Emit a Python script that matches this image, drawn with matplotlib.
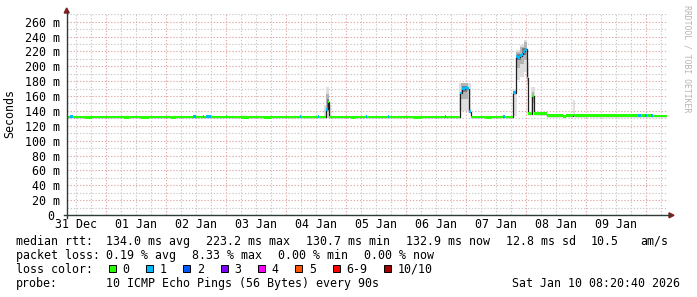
import numpy as np
import pandas as pd
import matplotlib
matplotlib.use("Agg")
import matplotlib.pyplot as plt
import matplotlib.dates as mdates
import matplotlib.transforms as mtrans
from matplotlib.lines import Line2D
from matplotlib.patches import Polygon, Rectangle
from matplotlib.ticker import MultipleLocator, FuncFormatter

# ---------------- data ----------------
t_start = "2025-12-31 08:20:40"
t_end = "2026-01-10 08:20:40"

med_time = [
    "2025-12-31 08:20", "2025-12-31 09:36", "2025-12-31 10:48", "2025-12-31 15:36",
    "2025-12-31 18:24", "2026-01-01 07:00", "2026-01-01 09:00", "2026-01-01 14:00",
    "2026-01-01 17:00", "2026-01-02 02:00", "2026-01-02 04:00", "2026-01-02 10:48",
    "2026-01-02 12:00", "2026-01-02 14:48", "2026-01-02 15:12", "2026-01-02 16:00",
    "2026-01-02 18:00", "2026-01-03 00:00", "2026-01-03 00:24", "2026-01-03 06:00",
    "2026-01-03 09:00", "2026-01-03 15:00", "2026-01-03 18:00", "2026-01-04 05:36",
    "2026-01-04 06:00", "2026-01-04 12:48", "2026-01-04 13:12", "2026-01-04 15:48",
    "2026-01-04 16:36", "2026-01-04 17:12", "2026-01-05 02:00", "2026-01-05 04:00",
    "2026-01-05 08:00", "2026-01-05 08:24", "2026-01-05 16:48", "2026-01-05 17:12",
    "2026-01-06 03:00", "2026-01-06 06:00", "2026-01-06 15:36", "2026-01-06 16:00",
    "2026-01-06 21:36", "2026-01-06 22:24", "2026-01-06 23:36", "2026-01-07 00:24",
    "2026-01-07 01:19", "2026-01-07 01:53", "2026-01-07 08:00", "2026-01-07 10:00",
    "2026-01-07 14:48", "2026-01-07 15:36", "2026-01-07 18:55", "2026-01-07 19:53",
    "2026-01-07 20:48", "2026-01-07 21:36", "2026-01-07 22:24", "2026-01-07 22:55",
    "2026-01-07 23:36", "2026-01-08 00:17", "2026-01-08 00:55", "2026-01-08 02:31",
    "2026-01-08 03:19", "2026-01-08 08:12", "2026-01-08 14:48", "2026-01-08 16:00",
    "2026-01-08 18:48", "2026-01-08 19:36", "2026-01-09 00:48", "2026-01-09 01:36",
    "2026-01-09 20:48", "2026-01-09 22:00", "2026-01-09 23:36", "2026-01-10 00:24",
    "2026-01-10 02:00", "2026-01-10 02:48",
]
med_ms = [
    131.8, 132.0, 131.8, 131.2,
    131.8, 131.3, 131.9, 131.3,
    131.9, 131.4, 131.9, 132.0,
    131.8, 132.0, 131.8, 132.0,
    131.8, 132.6, 131.8, 131.3,
    131.8, 131.4, 131.9, 132.0,
    131.8, 132.0, 131.8, 142.0,
    152.0, 131.8, 131.3, 131.8,
    132.0, 131.8, 132.0, 131.8,
    131.3, 131.8, 132.0, 131.8,
    164.0, 170.0, 171.5, 170.0,
    139.0, 131.8, 131.3, 131.8,
    132.0, 131.8, 164.5, 213.0,
    212.0, 214.0, 216.0, 220.0,
    223.0, 184.0, 136.0, 160.0,
    136.3, 133.4, 132.9, 133.4,
    134.5, 133.4, 134.2, 133.4,
    133.5, 133.4, 133.5, 133.4,
    133.5, 133.2,
]
med_loss = [
    0, 1, 0, 0,
    0, 0, 0, 0,
    0, 0, 0, 1,
    0, 1, 0, 1,
    0, 0, 0, 0,
    0, 0, 0, 1,
    0, 1, 0, 1,
    0, 0, 0, 0,
    1, 0, 1, 0,
    0, 0, 1, 0,
    1, 1, 1, 1,
    1, 0, 0, 0,
    1, 0, 1, 1,
    1, 1, 1, 1,
    1, 0, 0, 0,
    0, 0, 0, 0,
    0, 0, 0, 0,
    1, 0, 1, 0,
    1, 0,
]

smoke_start = [
    "2026-01-04 15:20", "2026-01-04 16:00", "2026-01-04 16:00", "2026-01-04 16:20",
    "2026-01-06 21:20", "2026-01-06 21:50", "2026-01-06 22:20",
    "2026-01-07 18:50", "2026-01-07 19:50", "2026-01-07 21:30", "2026-01-07 23:00",
    "2026-01-07 19:50", "2026-01-07 21:30", "2026-01-07 23:00",
    "2026-01-07 20:10", "2026-01-07 22:10",
    "2026-01-08 00:10", "2026-01-08 00:15", "2026-01-08 02:00", "2026-01-08 02:20",
    "2026-01-08 18:50",
]
smoke_end = [
    "2026-01-04 18:00", "2026-01-04 17:20", "2026-01-04 17:20", "2026-01-04 17:00",
    "2026-01-07 01:50", "2026-01-07 00:50", "2026-01-07 00:30",
    "2026-01-07 20:10", "2026-01-07 21:30", "2026-01-07 23:00", "2026-01-08 00:20",
    "2026-01-07 21:30", "2026-01-07 23:00", "2026-01-08 00:20",
    "2026-01-07 21:50", "2026-01-07 23:50",
    "2026-01-08 01:00", "2026-01-08 00:55", "2026-01-08 03:30", "2026-01-08 03:20",
    "2026-01-08 19:40",
]
smoke_low = [130, 133, 138, 141, 140, 156, 165, 133, 182, 186, 192, 198, 203, 209,
             209, 215, 175, 180, 140, 150, 132]
smoke_high = [148, 172, 163, 156, 178, 177, 174, 170, 222, 229, 236, 219, 226, 232,
              216, 224, 206, 195, 172, 166, 155]
smoke_level = [0, 0, 1, 2, 0, 1, 2, 0, 0, 0, 0, 1, 1, 1, 2, 2, 0, 1, 0, 1, 0]

day_labels = ["31 Dec", "01 Jan", "02 Jan", "03 Jan", "04 Jan",
              "05 Jan", "06 Jan", "07 Jan", "08 Jan", "09 Jan"]
day_label_time = ["2025-12-31 12:00", "2026-01-01 12:00", "2026-01-02 12:00",
                  "2026-01-03 12:00", "2026-01-04 12:00", "2026-01-05 12:00",
                  "2026-01-06 12:00", "2026-01-07 12:00", "2026-01-08 12:00",
                  "2026-01-09 12:00"]

loss_labels = ["0", "1", "2", "3", "4", "5", "6-9", "10/10"]
loss_colors = ["#26ff00", "#00b8ff", "#0059ff", "#7e00ff", "#ff00ff",
               "#ff5500", "#ff0000", "#a10000"]

rtt_stats = ["134.0 ms avg", "223.2 ms max", "130.7 ms min", "132.9 ms now", "12.8 ms sd"]
amps = ["10.5", "am/s"]
loss_stats = ["0.19 % avg", "8.33 % max", "0.00 % min", "0.00 % now"]
probe_text = "10 ICMP Echo Pings (56 Bytes) every 90s"
stamp = "Sat Jan 10 08:20:40 2026"

# ---------------- style ----------------
W, H = 697, 297
FONT = "DejaVu Sans Mono"
FS = 8.4
plt.rcParams["font.family"] = [FONT]
AXIS = "#2c3c38"
ARROW = "#7f1f1f"
GRID = "#c8c8c8"
MGRID = "#e0a8a8"
smoke_shades = ["#dedede", "#b4b4b4", "#7c7c7c"]


def fx(px):
    return px / W


def fy(py):
    return 1 - py / H


fig = plt.figure(figsize=(W / 100, H / 100), dpi=100, facecolor="white")
ax = fig.add_axes([fx(67), fy(215), 600 / W, 201 / H])
ax.set_facecolor("white")

x0 = mdates.date2num(pd.Timestamp(t_start))
x1 = mdates.date2num(pd.Timestamp(t_end))
ax.set_xlim(x0, x1)
ax.set_ylim(0, 270.3)
for s in ax.spines.values():
    s.set_visible(False)

# grid
ax.yaxis.set_major_locator(MultipleLocator(20))
ax.yaxis.set_minor_locator(MultipleLocator(10))
ax.xaxis.set_major_locator(mdates.DayLocator())
ax.xaxis.set_minor_locator(mdates.HourLocator(byhour=[6, 12, 18]))
ax.grid(which="minor", color=GRID, lw=0.8, ls=(0, (1.2, 1.6)))
ax.grid(which="major", color=MGRID, lw=0.8, ls=(0, (1.2, 1.6)))
ax.set_axisbelow(True)
ax.tick_params(axis="x", which="both", length=0, labelbottom=False)
ax.tick_params(axis="y", which="both", length=0, pad=5.0, labelsize=FS)
ax.yaxis.set_major_formatter(FuncFormatter(lambda v, p: "" if v == 0 else f"{v:.0f} m"))
# zero label drawn separately, nudged clear of the first date label
ax.text(-0.0205, 0, "0", transform=mtrans.blended_transform_factory(ax.transAxes, ax.transData),
        ha="right", va="center_baseline", fontsize=FS, color="black")

# smoke
s0 = mdates.date2num(pd.to_datetime(smoke_start))
s1 = mdates.date2num(pd.to_datetime(smoke_end))
lo = np.array(smoke_low, float)
hi = np.array(smoke_high, float)
order = np.argsort(smoke_level, kind="stable")
ax.bar(s0[order], (hi - lo)[order], bottom=lo[order], width=(s1 - s0)[order],
       align="edge", color=[smoke_shades[smoke_level[i]] for i in order],
       linewidth=0, zorder=2)

# median
mt = mdates.date2num(pd.to_datetime(med_time))
mt_end = np.append(mt[1:], x1)
mv = np.array(med_ms, float)
ax.step(np.append(mt, x1), np.append(mv, mv[-1]), where="post",
        color="#202020", lw=0.9, zorder=3)
band = 3.8
ax.bar(mt, np.full_like(mv, band), bottom=mv - band / 2, width=mt_end - mt,
       align="edge", color=[loss_colors[l] for l in med_loss], linewidth=0, zorder=4)

# x labels
trans = mtrans.blended_transform_factory(ax.transData, fig.transFigure)
for t, lab in zip(day_label_time, day_labels):
    ax.text(mdates.date2num(pd.Timestamp(t)), fy(228.0), lab, transform=trans,
            ha="center", va="baseline", fontsize=FS, color="black")

# axes lines and arrows
fig.add_artist(Line2D([fx(66.7), fx(66.7)], [fy(218), fy(12)], color=AXIS, lw=1.0))
fig.add_artist(Line2D([fx(64), fx(670)], [fy(215.3), fy(215.3)], color=AXIS, lw=1.0))
fig.add_artist(Polygon([[fx(64.2), fy(13)], [fx(69.2), fy(13)], [fx(66.7), fy(8)]],
                       closed=True, color=ARROW, transform=fig.transFigure))
fig.add_artist(Polygon([[fx(669), fy(212.8)], [fx(669), fy(217.8)], [fx(674), fy(215.3)]],
                       closed=True, color=ARROW, transform=fig.transFigure))

# y label, watermark
fig.text(fx(10), fy(113.5), "Seconds", rotation=90, ha="center", va="center",
         fontsize=FS, color="black")
fig.text(fx(687), fy(5), "RRDTOOL / TOBI OETIKER", rotation=270, ha="center",
         va="top", fontsize=5.9, color="#b4b4b4")

# legend text
def txt(px, py, s, ha="left"):
    fig.text(fx(px), fy(py), s, ha=ha, va="baseline", fontsize=FS, color="black")

b1, b2, b3, b4 = 244.8, 259.3, 272.6, 287.4
txt(15.5, b1, "median rtt:")
for s, px in zip(rtt_stats, [106.2, 206.2, 305.6, 406.2, 506.2]):
    txt(px, b1, s)
txt(590.6, b1, amps[0])
txt(640.0, b1, amps[1])

txt(15.5, b2, "packet loss:")
for s, px in zip(loss_stats, [106.2, 192.2, 278.2, 364.0]):
    txt(px, b2, s)

txt(15.5, b3, "loss color:")
cw = 7.02
bx = 108.6
for lab, col in zip(loss_labels, loss_colors):
    fig.add_artist(Rectangle((fx(bx), fy(271.8)), 7 / W, 7 / H, facecolor=col,
                             edgecolor="black", lw=0.7, transform=fig.transFigure))
    txt(bx + 14.0, b3, lab)
    bx += 7 + 7 + len(lab) * cw + 16.3

txt(15.5, b4, "probe:")
txt(106.2, b4, probe_text)
txt(680.5, b4, stamp, ha="right")

fig.savefig("out.png", dpi=100, facecolor="white")
